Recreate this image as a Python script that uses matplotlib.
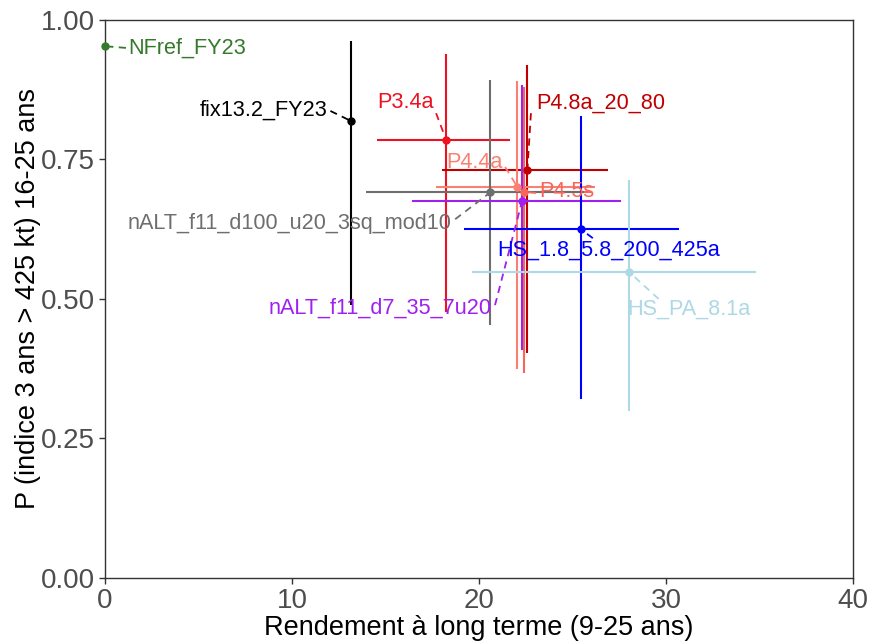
import matplotlib
matplotlib.use("Agg")
import matplotlib.pyplot as plt

plt.rcParams['font.family'] = ['Liberation Sans', 'DejaVu Sans']

names = ["NFref_FY23", "fix13.2_FY23", "P3.4a", "P4.8a_20_80", "P4.4a", "P4.5s",
         "nALT_f11_d100_u20_3sq_mod10", "nALT_f11_d7_35_7u20",
         "HS_1.8_5.8_200_425a", "HS_PA_8.1a"]
x_mid = [0.0, 13.15, 18.24, 22.58, 22.04, 22.4, 20.6, 22.3, 25.44, 28.0]
y_mid = [0.953, 0.819, 0.785, 0.731, 0.701, 0.692, 0.691, 0.676, 0.625, 0.549]
x_lo = [0.0, 13.15, 14.56, 18.03, 17.7, 18.0, 13.96, 16.4, 19.2, 19.6]
x_hi = [0.0, 13.15, 21.65, 26.9, 26.2, 26.0, 25.6, 27.6, 30.7, 34.8]
y_lo = [0.953, 0.489, 0.477, 0.403, 0.375, 0.367, 0.453, 0.409, 0.321, 0.299]
y_hi = [0.953, 0.962, 0.939, 0.919, 0.891, 0.880, 0.892, 0.884, 0.828, 0.713]

colors = ["#357a2c", "#000000", "#EE1122", "#C00000", "#FA8072", "#F8665A",
          "#6E6E6E", "#A020F0", "#0000FF", "#ADD8E6"]

# label layout (text anchor, alignment, connector start)
label_pos = [(1.23, 0.950, 'left'), (11.9, 0.839, 'right'), (16.05, 0.853, 'center'),
             (23.04, 0.851, 'left'), (19.73, 0.7455, 'center'), (23.2, 0.692, 'left'),
             (9.87, 0.636, 'center'), (14.72, 0.484, 'center'), (26.93, 0.588, 'center'),
             (31.2, 0.482, 'center')]
seg_start = [(1.12, 0.950), (12.05, 0.837), (17.7, 0.833), (22.77, 0.833),
             (21.39, 0.7366), (23.04, 0.690), (18.72, 0.643), (20.85, 0.489),
             (26.08, 0.609), (29.6, 0.500)]

fig = plt.figure(figsize=(8.7, 6.41), dpi=100)
ax = fig.add_axes([0.1207, 0.0983, 0.8600, 0.8705])

for i, n in enumerate(names):
    xe = [[x_mid[i] - x_lo[i]], [x_hi[i] - x_mid[i]]]
    ye = [[y_mid[i] - y_lo[i]], [y_hi[i] - y_mid[i]]]
    ax.errorbar([x_mid[i]], [y_mid[i]], xerr=xe, yerr=ye, fmt='o', ms=5,
                color=colors[i], ecolor=colors[i], elinewidth=1.5, capsize=0,
                zorder=3, clip_on=False)

for i, n in enumerate(names):
    lx, ly, ha = label_pos[i]
    ax.text(lx, ly, n, color=colors[i], ha=ha, va='center', fontsize=15.6, zorder=5)
    sx, sy = seg_start[i]
    ax.plot([sx, x_mid[i]], [sy, y_mid[i]], color=colors[i], lw=1.3,
            linestyle=(0, (4, 3)), zorder=4, clip_on=False)

ax.set_xlim(0, 40)
ax.set_ylim(0, 1)
ax.set_xticks([0, 10, 20, 30, 40])
ax.set_yticks([0, 0.25, 0.5, 0.75, 1.0])
ax.set_yticklabels(["0.00", "0.25", "0.50", "0.75", "1.00"])
ax.tick_params(labelsize=20, labelcolor='#4D4D4D', color='#333333', length=4, width=1, pad=3)
for s in ax.spines.values():
    s.set_color('#333333')
    s.set_linewidth(1.0)
ax.set_xlabel("Rendement à long terme (9-25 ans)", fontsize=19.5, color='black', labelpad=1)
ax.set_ylabel("P (indice 3 ans > 425 kt) 16-25 ans", fontsize=19.5, color='black', labelpad=0)

fig.savefig("out.png", dpi=100)
